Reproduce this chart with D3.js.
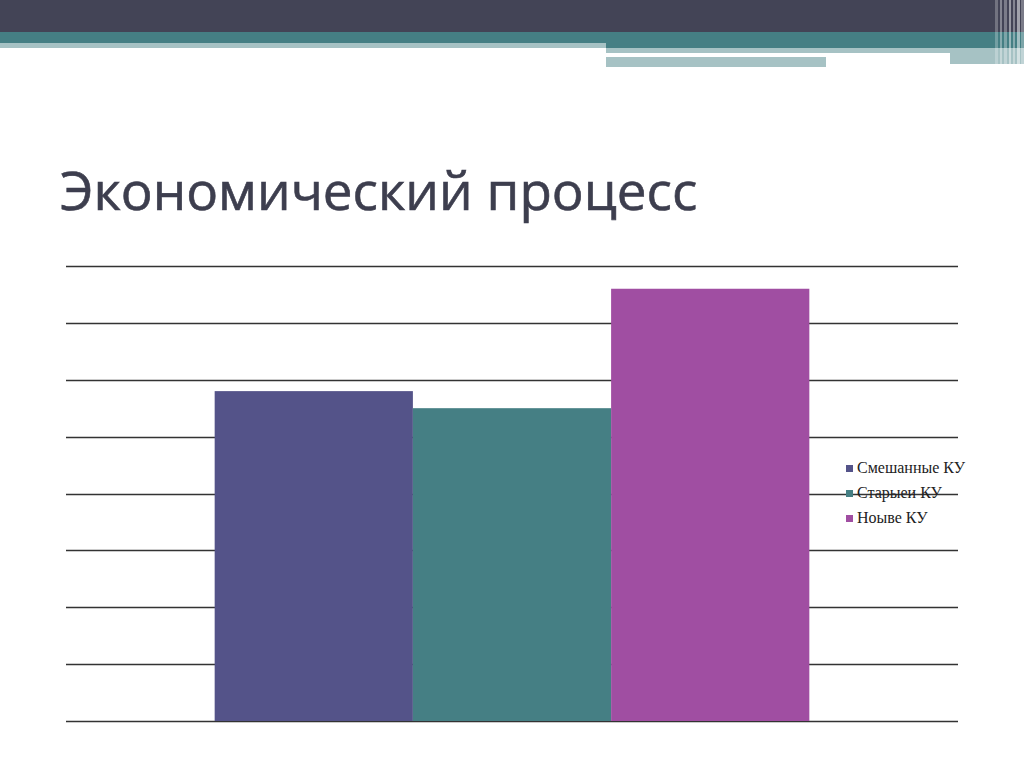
<!DOCTYPE html>
<html>
<head>
<meta charset="utf-8">
<script src="https://cdn.jsdelivr.net/npm/d3@7"></script>
<style>
  body { margin: 0; background: #ffffff; }
  svg { display: block; }
</style>
</head>
<body>
<div id="chart"></div>
<script>
// Chart data
var categories = ["Экономический процесс"];
var seriesNames = ["Смешанные КУ", "Старыеи КУ", "Ноыве КУ"];
var seriesValues = [5.8, 5.5, 7.6];
var gridTicks = [0, 1, 2, 3, 4, 5, 6, 7, 8];

var width = 1024;
var height = 767;

var svg = d3.select("#chart")
    .append("svg")
    .attr("width", width)
    .attr("height", height);

// Slide header bands
var header = svg.append("g");
header.append("rect").attr("x", 0).attr("y", 0).attr("width", width).attr("height", 32).attr("fill", "#434456");
header.append("rect").attr("x", 0).attr("y", 32).attr("width", width).attr("height", 11).attr("fill", "#457f84");
header.append("rect").attr("x", 0).attr("y", 43).attr("width", 606).attr("height", 5).attr("fill", "#a6c2c4");
header.append("rect").attr("x", 606).attr("y", 43).attr("width", 418).attr("height", 5).attr("fill", "#457f84");
header.append("rect").attr("x", 606).attr("y", 48).attr("width", 418).attr("height", 5).attr("fill", "#a6c2c4");
header.append("rect").attr("x", 950).attr("y", 53).attr("width", 74).attr("height", 11).attr("fill", "#a6c2c4");
header.append("rect").attr("x", 606).attr("y", 57).attr("width", 220).attr("height", 10).attr("fill", "#a6c2c4");

// vertical stripes on the right edge
var stripes = [[995, 3, 0.25], [1000, 2, 0.35], [1004, 3, 0.3], [1009, 2, 0.45], [1013, 2, 0.35], [1017, 3, 0.5], [1021, 3, 0.3]];
header.selectAll("rect.stripe")
    .data(stripes)
    .enter()
    .append("rect")
    .attr("class", "stripe")
    .attr("x", function(d) { return d[0]; })
    .attr("y", 0)
    .attr("width", function(d) { return d[1]; })
    .attr("height", 67)
    .attr("fill", "#ffffff")
    .attr("opacity", function(d) { return d[2]; });

// Title
svg.append("text")
    .attr("x", 60)
    .attr("y", 210)
    .style("font-family", "'Open Sans', sans-serif")
    .style("font-size", "53px")
    .style("fill", "#3d3e4e")
    .style("stroke", "#3d3e4e")
    .style("stroke-width", "0.6px")
    .text(categories[0]);

// Plot area
var plotLeft = 66, plotRight = 958, plotTop = 266, plotBottom = 721;

var y = d3.scaleLinear()
    .domain([0, 8])
    .range([plotBottom, plotTop]);

var x0 = d3.scaleBand()
    .domain(categories)
    .range([plotLeft, plotRight])
    .paddingInner(0)
    .paddingOuter(0.25);

var x1 = d3.scaleBand()
    .domain(seriesNames)
    .range([0, x0.bandwidth()]);

var color = d3.scaleOrdinal()
    .domain(seriesNames)
    .range(["#545389", "#457f84", "#a04ea2"]);

// Gridlines
svg.append("g")
    .selectAll("line")
    .data(gridTicks)
    .enter()
    .append("line")
    .attr("x1", plotLeft)
    .attr("x2", plotRight)
    .attr("y1", function(d) { return Math.round(y(d)) + 0.5; })
    .attr("y2", function(d) { return Math.round(y(d)) + 0.5; })
    .attr("stroke", "#333333")
    .attr("stroke-width", 1.5);

// Bars
svg.append("g")
    .attr("transform", "translate(" + x0(categories[0]) + ",0)")
    .selectAll("rect")
    .data(seriesValues)
    .enter()
    .append("rect")
    .attr("x", function(d, i) { return x1(seriesNames[i]); })
    .attr("y", function(d) { return y(d); })
    .attr("width", x1.bandwidth())
    .attr("height", function(d) { return y(0) - y(d); })
    .attr("fill", function(d, i) { return color(seriesNames[i]); });

// Legend
var legend = svg.append("g")
    .attr("transform", "translate(846,468)");

var items = legend.selectAll("g")
    .data(seriesNames)
    .enter()
    .append("g")
    .attr("transform", function(d, i) { return "translate(0," + (i * 25) + ")"; });

items.append("rect")
    .attr("x", 0)
    .attr("y", -3)
    .attr("width", 7)
    .attr("height", 7)
    .attr("fill", function(d) { return color(d); });

items.append("text")
    .attr("x", 11)
    .attr("y", 5)
    .style("font-family", "'Liberation Serif', serif")
    .style("font-size", "16px")
    .style("fill", "#222222")
    .text(function(d) { return d; });
</script>
</body>
</html>
